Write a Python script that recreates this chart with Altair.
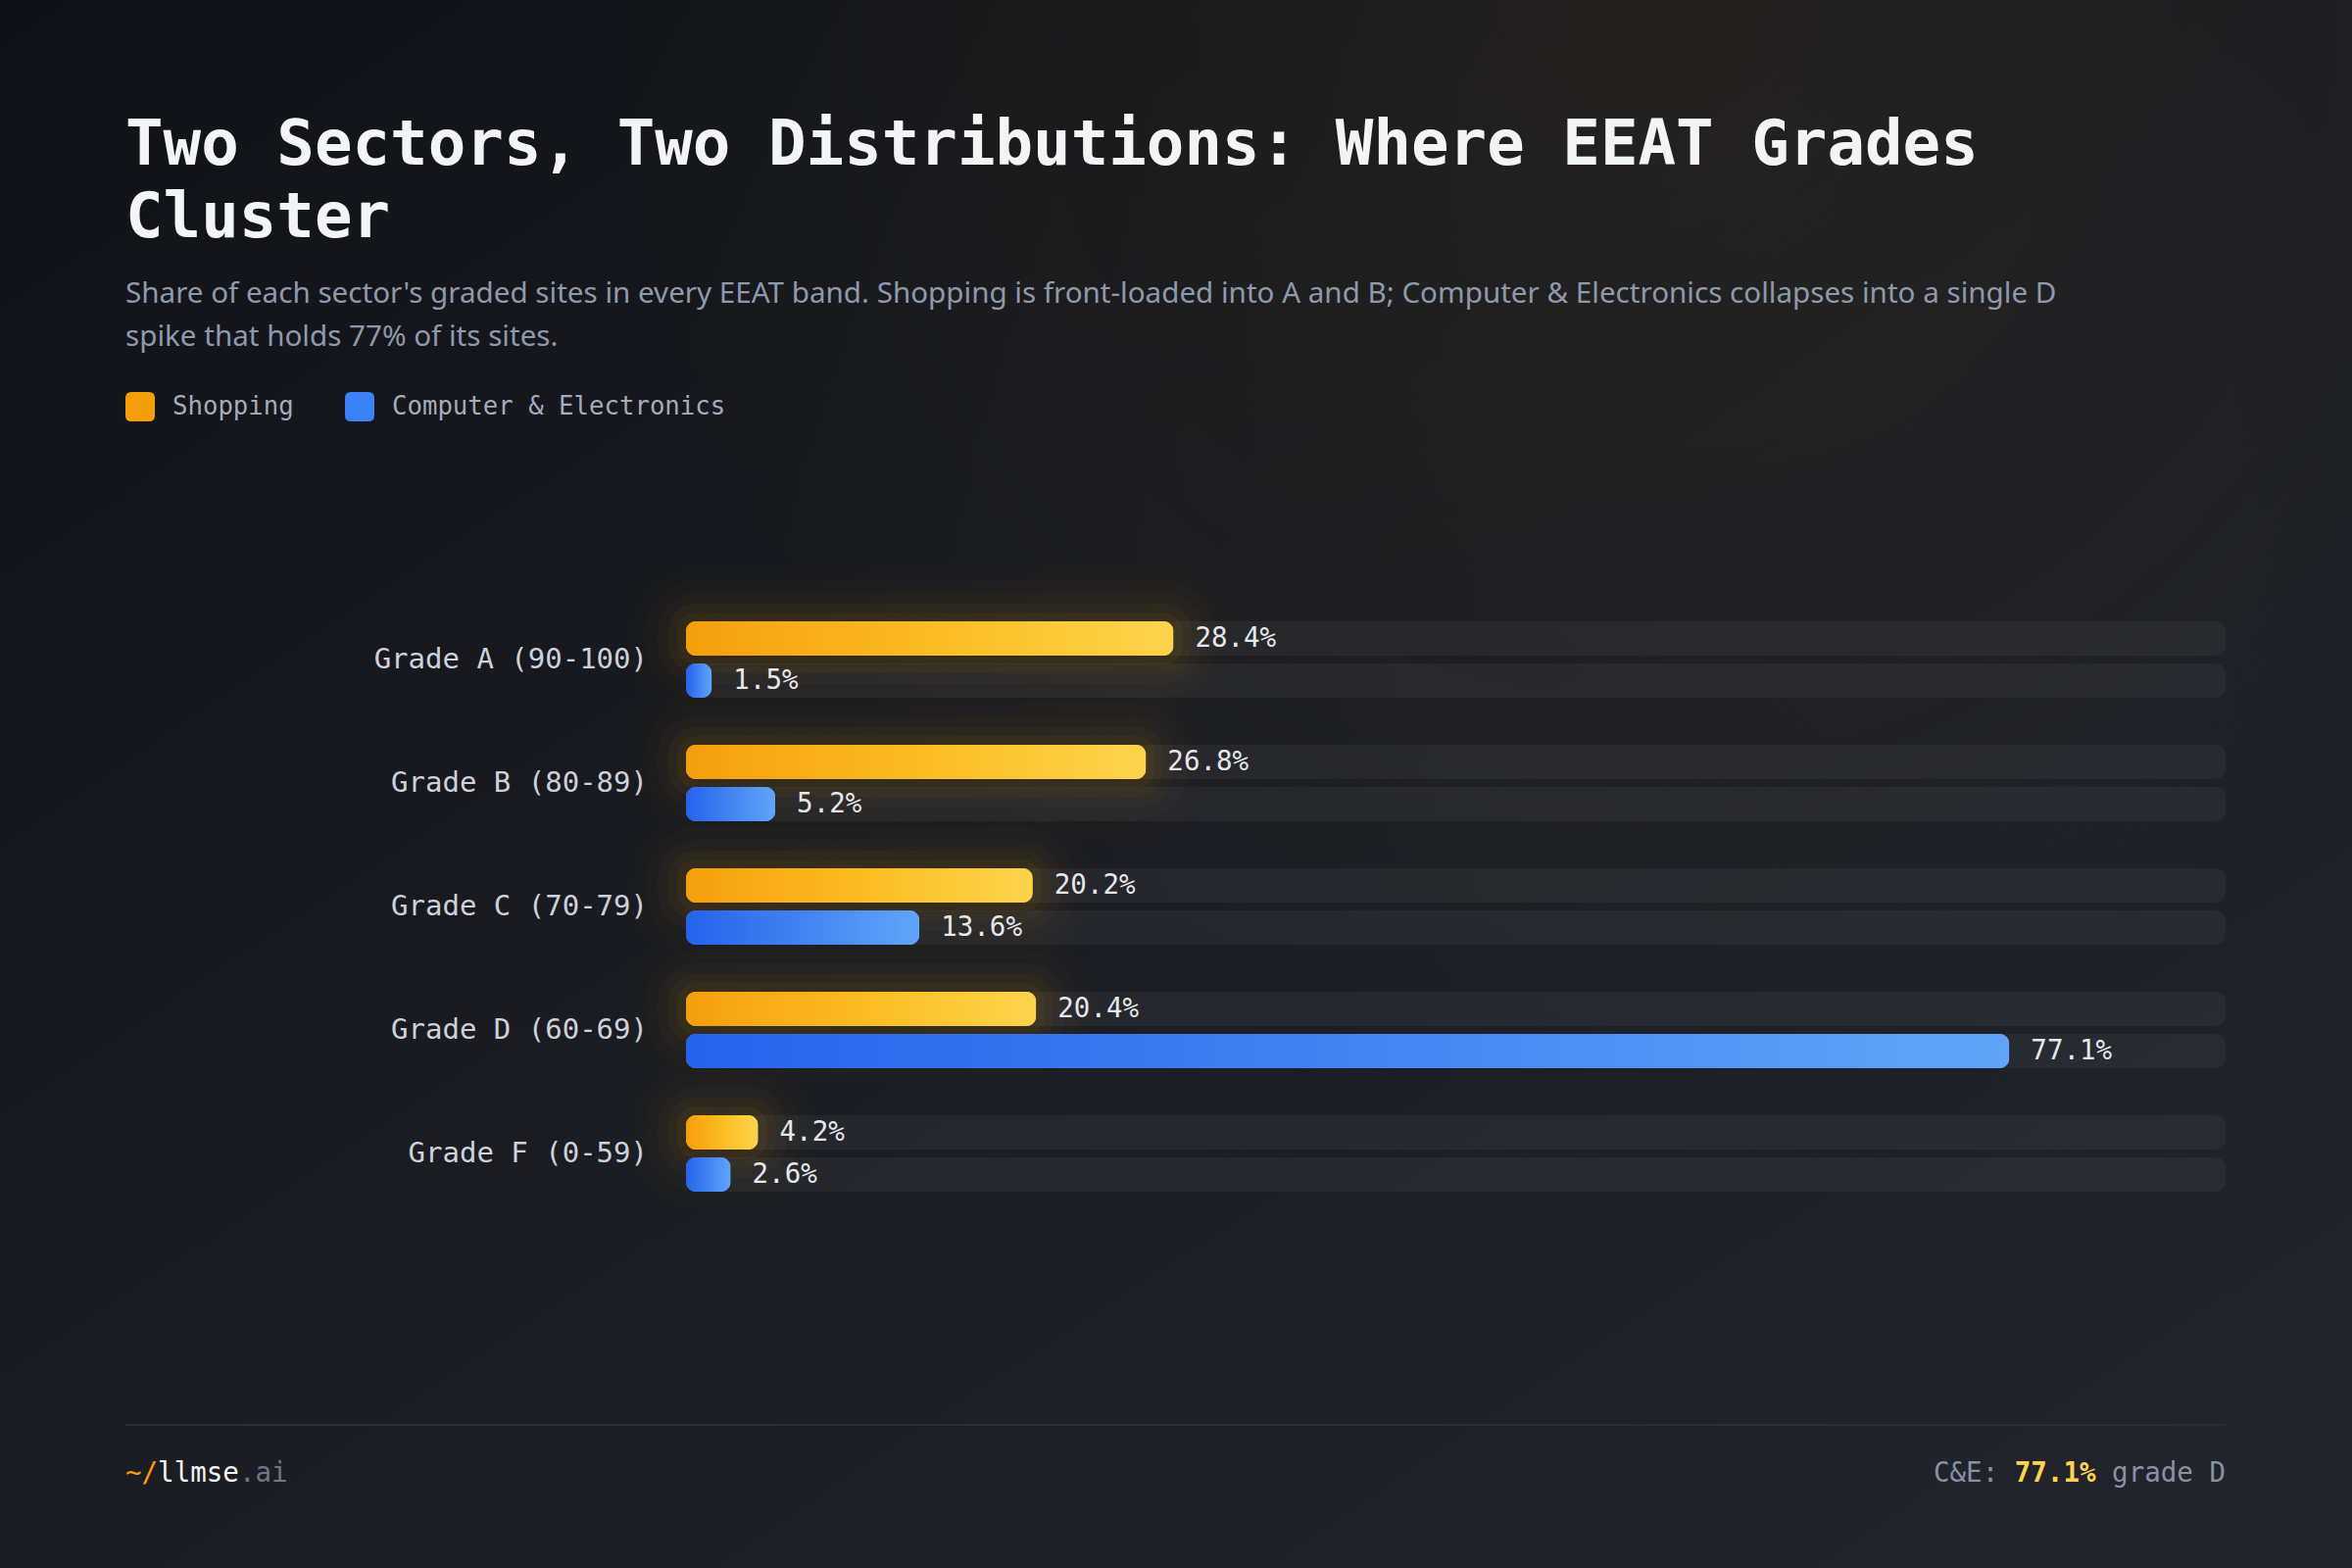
import altair as alt
import pandas as pd

# ---------------- data ----------------
grades = ["Grade A (90-100)", "Grade B (80-89)", "Grade C (70-79)",
          "Grade D (60-69)", "Grade F (0-59)"]
sectors = ["Shopping", "Computer & Electronics"]
shopping_pct = [28.4, 26.8, 20.2, 20.4, 4.2]
ce_pct = [1.5, 5.2, 13.6, 77.1, 2.6]
x_max = 89.7

title_lines = ["Two Sectors, Two Distributions: Where EEAT Grades", "Cluster"]
subtitle_lines = [
    "Share of each sector's graded sites in every EEAT band. Shopping is front-loaded into A and B; Computer & Electronics collapses into a single D",
    "spike that holds 77% of its sites.",
]

rows = []
for g, s, c in zip(grades, shopping_pct, ce_pct):
    rows.append({"grade": g, "sector": sectors[0], "value": s, "label": f"{s:.1f}%"})
    rows.append({"grade": g, "sector": sectors[1], "value": c, "label": f"{c:.1f}%"})
df = pd.DataFrame(rows)
one = pd.DataFrame({"k": [1]})

W, H = 2400, 1600
MONO = "DejaVu Sans Mono"
SANS = "Noto Sans"
AMBER = "#f59e0b"
BLUE = "#3b82f6"
BAR_H = 35
OFF = 21.5  # half distance between the two bars of a grade

# ---------------- encodings ----------------
XS = alt.Scale(domain=[0, x_max], range=[700, 2271])
Y = alt.Y("grade:N", sort=grades, axis=None,
          scale=alt.Scale(range=[610, 1240], paddingInner=0, paddingOuter=0))
X = alt.X("value:Q", axis=None, scale=XS)
XT = alt.X("track:Q", axis=None, scale=XS)
XZ = alt.X("zero:Q", axis=None, scale=XS)

is_shop = alt.datum.sector == sectors[0]
is_ce = alt.datum.sector == sectors[1]

base = alt.Chart(df).transform_calculate(track=str(x_max), zero="0")

# ---------------- background ----------------
bg = alt.Chart(one).mark_rect(
    fill=alt.LinearGradient(
        gradient="linear", x1=0, y1=0, x2=1, y2=1,
        stops=[alt.GradientStop(color="#101217", offset=0),
               alt.GradientStop(color="#1b1d23", offset=0.5),
               alt.GradientStop(color="#22252d", offset=1)])
).encode(x=alt.value(0), x2=alt.value(W), y=alt.value(0), y2=alt.value(H))

warm = alt.Chart(one).mark_rect(
    fill=alt.RadialGradient(
        gradient="radial", x1=0.7, y1=0.17, r1=0, x2=0.7, y2=0.17, r2=0.45,
        stops=[alt.GradientStop(color="rgba(245,158,11,0.05)", offset=0),
               alt.GradientStop(color="rgba(245,158,11,0)", offset=1)])
).encode(x=alt.value(0), x2=alt.value(W), y=alt.value(0), y2=alt.value(H))

# ---------------- glow behind shopping bars (wide soft strokes) ----------------
glows = []
for w, o in [(18, 0.05), (36, 0.035), (58, 0.025), (84, 0.018), (114, 0.012)]:
    glows.append(
        base.transform_filter(is_shop)
        .mark_bar(cornerRadius=10, size=BAR_H, yOffset=-OFF, fillOpacity=0, stroke=AMBER,
                  strokeWidth=w, strokeOpacity=o, strokeJoin="round")
        .encode(x=X, y=Y)
    )

# ---------------- tracks ----------------
tracks = []
for flt, off in [(is_shop, -OFF), (is_ce, OFF)]:
    tracks.append(
        base.transform_filter(flt)
        .mark_bar(cornerRadius=10, size=BAR_H, yOffset=off, fill="#ffffff", opacity=0.045)
        .encode(x=XT, y=Y)
    )

# ---------------- solid bars (legend source) ----------------
legend = alt.Legend(
    orient="none", legendX=128, legendY=400, direction="horizontal", title=None,
    symbolType="M-0.6,-1L0.6,-1Q1,-1,1,-0.6L1,0.6Q1,1,0.6,1L-0.6,1Q-1,1,-1,0.6L-1,-0.6Q-1,-1,-0.6,-1Z",
    symbolSize=900, symbolStrokeWidth=0, symbolOpacity=1,
    labelFont=MONO, labelFontSize=25.7, labelColor="#a3acbd", labelOffset=18,
    columnPadding=52, padding=0, labelLimit=600)
color = alt.Color("sector:N", sort=sectors,
                  scale=alt.Scale(domain=sectors, range=[AMBER, BLUE]), legend=legend)

solid_shop = base.transform_filter(is_shop).mark_bar(
    cornerRadius=10, size=BAR_H, yOffset=-OFF).encode(x=X, y=Y, color=color)
solid_ce = base.transform_filter(is_ce).mark_bar(
    cornerRadius=10, size=BAR_H, yOffset=OFF).encode(x=X, y=Y, color=color)

shop_bar = base.transform_filter(is_shop).mark_bar(
    cornerRadius=10, size=BAR_H, yOffset=-OFF,
    fill=alt.LinearGradient(gradient="linear", x1=0, y1=0, x2=1, y2=0,
                            stops=[alt.GradientStop(color="#f59e0b", offset=0),
                                   alt.GradientStop(color="#fbbf24", offset=0.55),
                                   alt.GradientStop(color="#fcd34d", offset=1)])
).encode(x=X, y=Y)

ce_bar = base.transform_filter(is_ce).mark_bar(
    cornerRadius=10, size=BAR_H, yOffset=OFF,
    fill=alt.LinearGradient(gradient="linear", x1=0, y1=0, x2=1, y2=0,
                            stops=[alt.GradientStop(color="#2563eb", offset=0),
                                   alt.GradientStop(color="#60a5fa", offset=1)])
).encode(x=X, y=Y)

# ---------------- labels ----------------
value_layers = []
for flt, off in [(is_shop, -OFF), (is_ce, OFF)]:
    value_layers.append(
        base.transform_filter(flt).mark_text(
            align="left", baseline="middle", dx=22, dy=off, font=MONO, fontSize=27.5,
            color="#e5e7eb").encode(x=X, y=Y, text="label:N"))

row_labels = base.transform_filter(is_shop).mark_text(
    align="right", baseline="middle", dx=-39, font=MONO, fontSize=29, color="#cdd1da"
).encode(x=XZ, y=Y, text="grade:N")

# ---------------- titles ----------------
texts = []
for i, line in enumerate(title_lines):
    texts.append(alt.Chart(one).mark_text(
        text=line, align="left", baseline="alphabetic", font=MONO, fontWeight="bold",
        fontSize=64.1, color="#f3f4f6").encode(x=alt.value(128), y=alt.value(168 + 74 * i)))
for i, line in enumerate(subtitle_lines):
    texts.append(alt.Chart(one).mark_text(
        text=line, align="left", baseline="alphabetic", font=SANS,
        fontSize=29.6, color="#8e99ab").encode(x=alt.value(128), y=alt.value(309 + 44 * i)))

# ---------------- footer ----------------
FS = 27.5
ADV = FS * 0.6021
footer_rule = alt.Chart(one).mark_rule(color="#2a2e38", strokeWidth=2).encode(
    x=alt.value(128), x2=alt.value(2271), y=alt.value(1454))
foot = [
    ("~/", "left", 128, AMBER, "normal"),
    ("llmse", "left", 128 + 2 * ADV, "#f3f4f6", "normal"),
    (".ai", "left", 128 + 7 * ADV, "#6b778c", "normal"),
    ("grade D", "right", 2271, "#8792a5", "normal"),
    ("77.1%", "right", 2271 - 8 * ADV, "#fcd34d", "bold"),
    ("C&E:", "right", 2271 - 14 * ADV, "#8792a5", "normal"),
]
for t, al, xx, col, fw in foot:
    texts.append(alt.Chart(one).mark_text(
        text=t, align=al, baseline="alphabetic", font=MONO, fontSize=FS,
        fontWeight=fw, color=col).encode(x=alt.value(xx), y=alt.value(1512)))

chart = alt.layer(
    bg, warm, *glows, *tracks, solid_shop, solid_ce, shop_bar, ce_bar, *value_layers,
    row_labels, footer_rule, *texts
).properties(
    width=W, height=H, padding=0, autosize="none", background="#16181d"
).configure_view(stroke=None)

chart.save("out.html", embed_options={"renderer": "svg", "actions": False})
